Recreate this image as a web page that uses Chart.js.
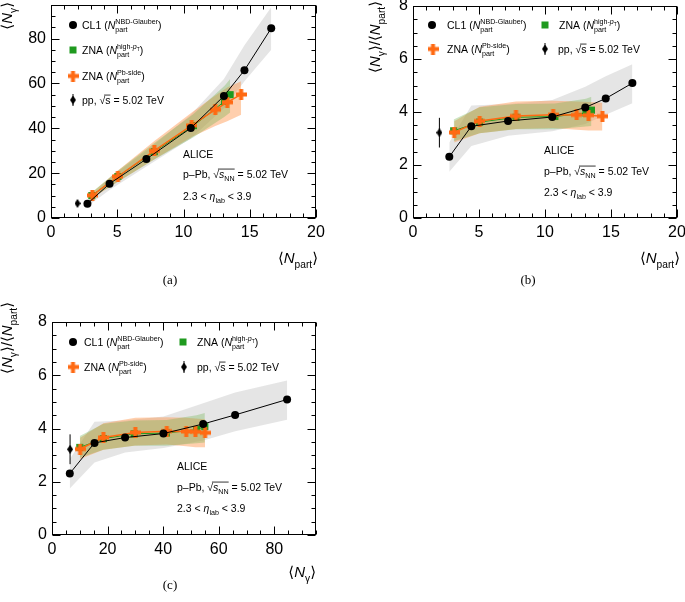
<!DOCTYPE html>
<html>
<head>
<meta charset="utf-8">
<script src="https://cdn.jsdelivr.net/npm/chart.js@4.4.0/dist/chart.umd.min.js"></script>
<style>
  body { margin: 0; background: #fff; width: 685px; height: 602px; position: relative; overflow: hidden; }
  canvas { position: absolute; }
</style>
</head>
<body>
<canvas id="ca" width="340" height="300" style="left:0;top:0"></canvas>
<canvas id="cb" width="345" height="300" style="left:340px;top:0"></canvas>
<canvas id="cc" width="400" height="302" style="left:0;top:300px"></canvas>
<script>
// CL1 (NBD-Glauber)
const cl1Npart = [2.75, 4.42, 7.2, 10.55, 13.05, 14.6, 16.62];
const cl1Ngamma = [6.4, 15.3, 26.3, 40.1, 54.4, 65.9, 84.6];
const cl1Ratio = [2.31, 3.46, 3.66, 3.81, 4.17, 4.51, 5.09];
const cl1NgammaLow = [5.2, 12.5, 23.0, 35.5, 49.0, 61.0, 75.0];
const cl1NgammaHigh = [7.6, 18.0, 30.0, 46.0, 62.0, 77.0, 94.0];
const cl1RatioLow = [1.75, 2.72, 3.1, 3.27, 3.55, 3.9, 4.33];
const cl1RatioHigh = [2.85, 4.25, 4.3, 4.45, 4.95, 5.35, 5.8];

// ZNA (high-pT)
const hptNpart = [3.08, 5.05, 7.8, 10.75, 13.1, 13.52];
const hptNgamma = [10.0, 18.5, 29.6, 41.2, 52.0, 55.0];
const hptRatio = [3.29, 3.62, 3.80, 3.83, 3.96, 4.07];
const hptNgammaLow = [8.9, 16.2, 26.1, 36.0, 45.2, 47.0];
const hptNgammaHigh = [11.5, 21.1, 33.5, 46.4, 59.0, 62.0];
const hptRatioLow = [2.9, 3.2, 3.35, 3.35, 3.45, 3.47];
const hptRatioHigh = [3.72, 4.18, 4.3, 4.32, 4.5, 4.58];

// ZNA (Pb-side)
const pbNpart = [3.12, 5.05, 7.8, 10.62, 12.4, 13.3, 14.35];
const pbNgamma = [10.1, 18.5, 30.0, 41.3, 48.3, 51.6, 55.1];
const pbRatio = [3.23, 3.66, 3.85, 3.90, 3.89, 3.88, 3.84];
const pbNgammaLow = [8.9, 16.2, 26.2, 36.1, 41.0, 43.2, 46.0];
const pbNgammaHigh = [11.4, 21.2, 34.3, 47.0, 54.6, 58.2, 61.0];
const pbRatioLow = [2.85, 3.2, 3.36, 3.4, 3.33, 3.3, 3.3];
const pbRatioHigh = [3.65, 4.2, 4.4, 4.42, 4.4, 4.38, 4.35];

// pp reference
const ppNpart = [2.0];
const ppNgamma = [6.5];
const ppRatio = [3.22];
const ppNgammaErr = [1.2];
const ppRatioErr = [0.56];

const FAM = '"Liberation Sans", "DejaVu Sans", sans-serif';
const GREEN = '#1f9a1f';
const ORANGE = '#ff6a13';
const GRAY_BAND = 'rgba(190,190,190,0.4)';
const ORANGE_BAND = 'rgba(255,140,60,0.42)';
const GREEN_BAND = 'rgba(110,180,80,0.34)';

// marker images
const plusImg = document.createElement('canvas');
plusImg.width = plusImg.height = 11;
(function () {
  const g = plusImg.getContext('2d');
  g.fillStyle = ORANGE;
  g.fillRect(3.5, 0, 4, 11);
  g.fillRect(0, 3.5, 11, 4);
})();
const diamondImg = document.createElement('canvas');
diamondImg.width = 6; diamondImg.height = 9;
(function () {
  const g = diamondImg.getContext('2d');
  g.fillStyle = '#000';
  g.beginPath(); g.moveTo(3, 0); g.lineTo(6, 4.5); g.lineTo(3, 9); g.lineTo(0, 4.5); g.closePath(); g.fill();
})();

const xy = (xs, ys) => xs.map((x, i) => ({ x: x, y: ys[i] }));

function band(xs, lo, hi, color) {
  return [
    { data: xy(xs, hi), borderWidth: 0, borderColor: 'transparent', pointRadius: 0, fill: false },
    { data: xy(xs, lo), borderWidth: 0, borderColor: 'transparent', pointRadius: 0, fill: '-1', backgroundColor: color }
  ];
}
function series(xs, ys, color, lw, style, r) {
  return { data: xy(xs, ys), borderColor: color, borderWidth: lw, pointStyle: style, pointRadius: r,
           pointBackgroundColor: color, pointBorderWidth: 0, fill: false, tension: 0 };
}
function errBar(xs, ys, es) {
  return { data: [{ x: xs[0], y: ys[0] - es[0] }, { x: xs[0], y: ys[0] + es[0] }],
           borderColor: '#000', borderWidth: 1, pointRadius: 0, fill: false };
}
// Chart.js paints the last dataset first, so the list runs from top layer to bottom layer
function panelSets(cx, hx, px, qx, cy, cLo, cHi, hy, hLo, hHi, py, pLo, pHi, qy, qe) {
  return [
    series(qx, qy, '#000', 0, diamondImg, 4),
    errBar(qx, qy, qe),
    series(cx, cy, '#000', 1, 'circle', 4),
    series(px, py, ORANGE, 1.5, plusImg, 5),
    series(hx, hy, GREEN, 1, 'rect', 5),
    ...band(hx, hLo, hHi, GREEN_BAND),
    ...band(px, pLo, pHi, ORANGE_BAND),
    ...band(cx, cLo, cHi, GRAY_BAND)
  ];
}

// ---- rich text helpers (sub/superscripts) ----
function setFont(ctx, sz, it) { ctx.font = (it ? 'italic ' : '') + sz + 'px ' + FAM; }
function norm(p) { return typeof p === 'string' ? [{ t: p }] : p; }
function rich(ctx, x, y, parts, sz, dry) {
  let cx = x;
  for (const p of parts) {
    if (p.t !== undefined) {
      setFont(ctx, sz, p.it);
      if (!dry) ctx.fillText(p.t, cx, y);
      cx += ctx.measureText(p.t).width;
    } else if (p.sqrt) {
      setFont(ctx, sz, false);
      const w0 = ctx.measureText('√').width;
      if (!dry) ctx.fillText('√', cx, y);
      const wi = rich(ctx, cx + w0, y, p.sqrt, sz, dry);
      if (!dry) {
        ctx.save(); ctx.lineWidth = 0.8; ctx.strokeStyle = '#000';
        ctx.beginPath(); ctx.moveTo(cx + w0 * 0.8, y - sz * 0.83); ctx.lineTo(cx + w0 + wi, y - sz * 0.83); ctx.stroke();
        ctx.restore();
      }
      cx += w0 + wi;
    } else {
      const s = sz * 0.68;
      let wa = 0, wb = 0;
      if (p.sup) wa = rich(ctx, cx, y - sz * 0.5, norm(p.sup), s, dry);
      if (p.sub) wb = rich(ctx, cx, y + sz * 0.3, norm(p.sub), s, dry);
      cx += Math.max(wa, wb);
    }
  }
  return cx - x;
}
function text(ctx, x, yc, parts, sz, align) {
  ctx.textBaseline = 'alphabetic'; ctx.textAlign = 'left'; ctx.fillStyle = '#000';
  const w = rich(ctx, 0, 0, parts, sz, true);
  const x0 = align === 'right' ? x - w : align === 'center' ? x - w / 2 : x;
  rich(ctx, x0, yc + sz * 0.36, parts, sz, false);
}
function vtext(ctx, xc, ytop, parts, sz) {
  ctx.save(); ctx.translate(xc, ytop); ctx.rotate(-Math.PI / 2);
  text(ctx, 0, 0, parts, sz, 'right');
  ctx.restore();
}
function marker(ctx, kind, x, y) {
  ctx.save();
  if (kind === 'cl1') { ctx.fillStyle = '#000'; ctx.beginPath(); ctx.arc(x, y, 4, 0, 2 * Math.PI); ctx.fill(); }
  if (kind === 'hpt') { ctx.fillStyle = GREEN; ctx.fillRect(x - 3.5, y - 3.5, 7, 7); }
  if (kind === 'pb') ctx.drawImage(plusImg, x - 5.5, y - 5.5);
  if (kind === 'pp') {
    ctx.strokeStyle = '#000'; ctx.lineWidth = 1;
    ctx.beginPath(); ctx.moveTo(x, y - 6); ctx.lineTo(x, y + 6); ctx.stroke();
    ctx.drawImage(diamondImg, x - 3, y - 4.5);
  }
  ctx.restore();
}

const L_CL1 = [{ t: 'CL1 (' }, { t: 'N', it: true }, { sub: 'part', sup: 'NBD-Glauber' }, { t: ')' }];
const L_HPT = [{ t: 'ZNA (' }, { t: 'N', it: true }, { sub: 'part', sup: [{ t: 'high-' }, { t: 'p', it: true }, { sub: 'T' }] }, { t: ')' }];
const L_PB = [{ t: 'ZNA (' }, { t: 'N', it: true }, { sub: 'part', sup: 'Pb-side' }, { t: ')' }];
const L_PP = [{ t: 'pp, ' }, { sqrt: [{ t: 's' }] }, { t: ' = 5.02 TeV' }];
const T_ALICE = [{ t: 'ALICE' }];
const T_SYS = [{ t: 'p–Pb, ' }, { sqrt: [{ t: 's', it: true }, { sub: 'NN' }] }, { t: ' = 5.02 TeV' }];
const T_ETA = [{ t: '2.3 < ' }, { t: 'η', it: true }, { sub: 'lab' }, { t: ' < 3.9' }];
const TI_NPART = [{ t: '⟨' }, { t: 'N', it: true }, { sub: 'part' }, { t: '⟩' }];
const TI_NG = [{ t: '⟨' }, { t: 'N', it: true }, { sub: 'γ' }, { t: '⟩' }];
const TI_RATIO = [{ t: '⟨' }, { t: 'N', it: true }, { sub: 'γ' }, { t: '⟩/⟨' }, { t: 'N', it: true }, { sub: 'part' }, { t: '⟩' }];

function drawFrame(chart, p) {
  const ctx = chart.ctx, a = chart.chartArea, xs = chart.scales.x, ys = chart.scales.y;
  ctx.save();
  ctx.strokeStyle = '#000'; ctx.lineWidth = 1;
  const L = Math.round(a.left) + 0.5, R = Math.round(a.right) - 0.5, T = Math.round(a.top) + 0.5, B = Math.round(a.bottom) - 0.5;
  ctx.strokeRect(L, T, R - L, B - T);
  ctx.beginPath();
  const nx = Math.round((p.x.max - p.x.min) / p.x.minor);
  for (let i = 0; i <= nx; i++) {
    const v = p.x.min + i * p.x.minor;
    const len = Math.abs(v / p.x.step - Math.round(v / p.x.step)) < 1e-6 ? 8 : 4;
    const px = Math.round(xs.getPixelForValue(v)) + 0.5;
    ctx.moveTo(px, B); ctx.lineTo(px, B - len);
    ctx.moveTo(px, T); ctx.lineTo(px, T + len);
  }
  const ny = Math.round((p.y.max - p.y.min) / p.y.minor);
  for (let i = 0; i <= ny; i++) {
    const v = p.y.min + i * p.y.minor;
    const len = Math.abs(v / p.y.step - Math.round(v / p.y.step)) < 1e-6 ? 8 : 4;
    const py = Math.round(ys.getPixelForValue(v)) + 0.5;
    ctx.moveTo(L, py); ctx.lineTo(L + len, py);
    ctx.moveTo(R, py); ctx.lineTo(R - len, py);
  }
  ctx.stroke();
  ctx.restore();
}

function makeChart(p) {
  const cv = document.getElementById(p.id);
  const W = cv.width, H = cv.height, XH = 30;
  const tickFont = { family: FAM, size: 16 };
  const onStep = step => s => { s.ticks = s.ticks.filter(t => Math.abs(t.value / step - Math.round(t.value / step)) < 1e-6); };
  return new Chart(cv, {
    type: 'line',
    data: { datasets: p.datasets },
    options: {
      responsive: false, animation: false, devicePixelRatio: 1, events: [],
      layout: { padding: { left: 0, top: p.area.top, right: W - p.area.right, bottom: H - p.area.bottom - XH } },
      scales: {
        x: {
          type: 'linear', min: p.x.min, max: p.x.max,
          grid: { display: false, drawTicks: false }, border: { display: false },
          ticks: { stepSize: p.x.step, autoSkip: false, maxRotation: 0, padding: 5, font: tickFont, color: '#000' },
          afterBuildTicks: onStep(p.x.step),
          afterFit: s => { s.height = XH; s.paddingLeft = 0; s.paddingRight = 0; }
        },
        y: {
          type: 'linear', min: p.y.min, max: p.y.max,
          grid: { display: false, drawTicks: false }, border: { display: false },
          ticks: { stepSize: p.y.step, autoSkip: false, padding: 5, font: tickFont, color: '#000' },
          afterBuildTicks: onStep(p.y.step),
          afterFit: s => { s.width = p.area.left; s.paddingTop = 0; s.paddingBottom = 0; }
        }
      },
      plugins: { legend: { display: false }, tooltip: { enabled: false } }
    },
    plugins: [{
      id: 'rootFrame',
      afterDatasetsDraw(chart) { drawFrame(chart, p); p.decor(chart.ctx); }
    }]
  });
}

// (a) Ngamma vs Npart
makeChart({
  id: 'ca', area: { left: 51, top: 5, right: 316, bottom: 218 },
  x: { min: 0, max: 20, step: 5, minor: 1 }, y: { min: 0, max: 95, step: 20, minor: 5 },
  datasets: panelSets(cl1Npart, hptNpart, pbNpart, ppNpart,
    cl1Ngamma, cl1NgammaLow, cl1NgammaHigh, hptNgamma, hptNgammaLow, hptNgammaHigh,
    pbNgamma, pbNgammaLow, pbNgammaHigh, ppNgamma, ppNgammaErr),
  decor(ctx) {
    const rows = [[25, 'cl1', L_CL1], [50, 'hpt', L_HPT], [76, 'pb', L_PB], [100, 'pp', L_PP]];
    rows.forEach(r => { marker(ctx, r[1], 73, r[0]); text(ctx, 82, r[0], r[2], 10.5); });
    text(ctx, 183, 154, T_ALICE, 10.5);
    text(ctx, 183, 174, T_SYS, 10.5);
    text(ctx, 183, 196, T_ETA, 10.5);
    text(ctx, 318, 258, TI_NPART, 15, 'right');
    vtext(ctx, 7, 2, TI_NG, 15);
    ctx.font = '13px "Liberation Serif", serif'; ctx.textAlign = 'center'; ctx.fillText('(a)', 170, 284);
  }
});

// (b) Ngamma/Npart vs Npart
makeChart({
  id: 'cb', area: { left: 73, top: 6, right: 337, bottom: 218 },
  x: { min: 0, max: 20, step: 5, minor: 1 }, y: { min: 0, max: 8, step: 2, minor: 0.5 },
  datasets: panelSets(cl1Npart, hptNpart, pbNpart, ppNpart,
    cl1Ratio, cl1RatioLow, cl1RatioHigh, hptRatio, hptRatioLow, hptRatioHigh,
    pbRatio, pbRatioLow, pbRatioHigh, ppRatio, ppRatioErr),
  decor(ctx) {
    marker(ctx, 'cl1', 92, 25); text(ctx, 107, 25, L_CL1, 10.5);
    marker(ctx, 'hpt', 205, 25); text(ctx, 219, 25, L_HPT, 10.5);
    marker(ctx, 'pb', 93, 49); text(ctx, 107, 49, L_PB, 10.5);
    marker(ctx, 'pp', 205, 49); text(ctx, 218, 49, L_PP, 10.5);
    text(ctx, 204, 150, T_ALICE, 10.5);
    text(ctx, 204, 171, T_SYS, 10.5);
    text(ctx, 204, 192, T_ETA, 10.5);
    text(ctx, 340, 258, TI_NPART, 15, 'right');
    vtext(ctx, 35, 1, TI_RATIO, 15);
    ctx.font = '13px "Liberation Serif", serif'; ctx.textAlign = 'center'; ctx.fillText('(b)', 188, 284);
  }
});

// (c) Ngamma/Npart vs Ngamma
makeChart({
  id: 'cc', area: { left: 52, top: 22, right: 316, bottom: 235 },
  x: { min: 0, max: 95, step: 20, minor: 5 }, y: { min: 0, max: 8, step: 2, minor: 0.5 },
  datasets: panelSets(cl1Ngamma, hptNgamma, pbNgamma, ppNgamma,
    cl1Ratio, cl1RatioLow, cl1RatioHigh, hptRatio, hptRatioLow, hptRatioHigh,
    pbRatio, pbRatioLow, pbRatioHigh, ppRatio, ppRatioErr),
  decor(ctx) {
    marker(ctx, 'cl1', 73, 42); text(ctx, 84, 42, L_CL1, 10.5);
    marker(ctx, 'hpt', 183, 42); text(ctx, 197, 42, L_HPT, 10.5);
    marker(ctx, 'pb', 73, 67); text(ctx, 84, 67, L_PB, 10.5);
    marker(ctx, 'pp', 184, 67); text(ctx, 197, 67, L_PP, 10.5);
    text(ctx, 177, 166, T_ALICE, 10.5);
    text(ctx, 177, 187, T_SYS, 10.5);
    text(ctx, 177, 208, T_ETA, 10.5);
    text(ctx, 316, 272, TI_NG, 15, 'right');
    vtext(ctx, 7, 2, TI_RATIO, 15);
    ctx.font = '13px "Liberation Serif", serif'; ctx.textAlign = 'center'; ctx.fillText('(c)', 170, 289);
  }
});
</script>
</body>
</html>
